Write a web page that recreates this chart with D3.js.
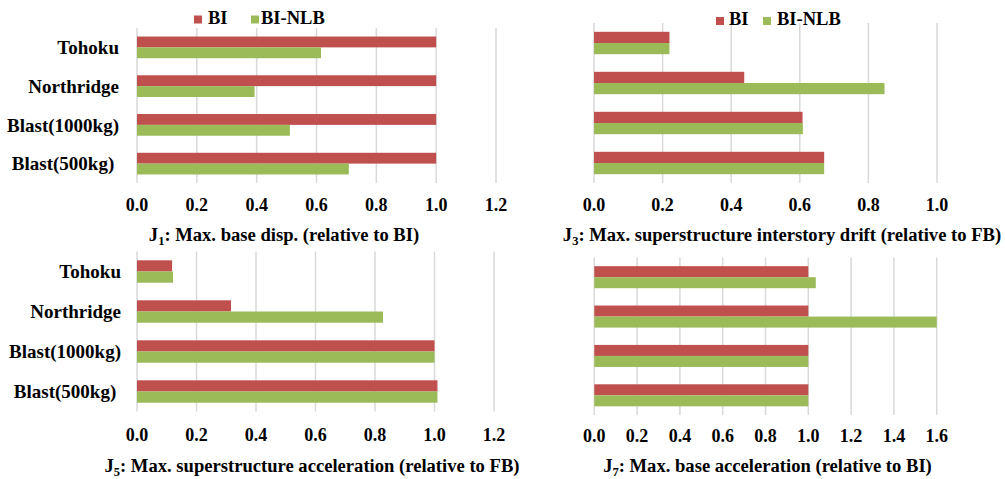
<!DOCTYPE html>
<html>
<head>
<meta charset="utf-8">
<script src="https://cdn.jsdelivr.net/npm/d3@7"></script>
<style>
  html, body { margin: 0; padding: 0; background: #fff; }
  svg { display: block; }
</style>
</head>
<body>
<svg id="chart" width="1005" height="479" font-family="Liberation Serif" font-weight="bold"></svg>
<script>
// Load cases (top to bottom)
const categories = ["Tohoku", "Northridge", "Blast(1000kg)", "Blast(500kg) "];
const seriesNames = ["BI", "BI-NLB"];
const seriesColors = ["#C0504D", "#9BBB59"];

// J1: max. base displacement (relative to BI)
const j1BI  = [1.0, 1.0, 1.0, 1.0];
const j1NLB = [0.615, 0.393, 0.511, 0.708];
// J3: max. superstructure interstory drift (relative to FB)
const j3BI  = [0.22, 0.438, 0.608, 0.671];
const j3NLB = [0.22, 0.847, 0.609, 0.671];
// J5: max. superstructure acceleration (relative to FB)
const j5BI  = [0.118, 0.316, 1.0, 1.01];
const j5NLB = [0.121, 0.827, 1.0, 1.01];
// J7: max. base acceleration (relative to BI)
const j7BI  = [1.0, 1.0, 1.0, 1.0];
const j7NLB = [1.035, 1.6, 1.0, 1.0];

// Axis tick values
const ticks12 = [0, 0.2, 0.4, 0.6, 0.8, 1.0, 1.2];
const ticks10 = [0, 0.2, 0.4, 0.6, 0.8, 1.0];
const ticks16 = [0, 0.2, 0.4, 0.6, 0.8, 1.0, 1.2, 1.4, 1.6];

// Titles: [main letter, subscript, rest]
const titles = [
  ["J", "1", ": Max. base disp. (relative to BI)"],
  ["J", "3", ": Max. superstructure interstory drift (relative to FB)"],
  ["J", "5", ": Max. superstructure acceleration (relative to FB)"],
  ["J", "7", ": Max. base acceleration (relative to BI)"]
];

const svg = d3.select("#chart");

const panels = [
  { bi: j1BI, nlb: j1NLB, ticks: ticks12, title: titles[0],
    x0: 137, x1: 496, y0: 28, y1: 183, tickY: 211, titleX: 284, titleY: 241,
    labelX: 119, legend: { y: 15.5, items: [194, 251], textX: [208, 261] } },
  { bi: j3BI, nlb: j3NLB, ticks: ticks10, title: titles[1],
    x0: 594, x1: 937, y0: 23, y1: 183, tickY: 211, titleX: 782, titleY: 241,
    labelX: null, legend: { y: 17, items: [716, 763], textX: [729, 777] } },
  { bi: j5BI, nlb: j5NLB, ticks: ticks12, title: titles[2],
    x0: 137, x1: 494, y0: 251.5, y1: 411.5, tickY: 441, titleX: 312, titleY: 472,
    labelX: 121, legend: null },
  { bi: j7BI, nlb: j7NLB, ticks: ticks16, title: titles[3],
    x0: 594.3, x1: 936.7, y0: 257.5, y1: 415, tickY: 442, titleX: 767.5, titleY: 472,
    labelX: null, legend: null }
];

panels.forEach(p => {
  const maxTick = p.ticks[p.ticks.length - 1];
  const x = d3.scaleLinear().domain([0, maxTick]).range([p.x0, p.x1]);
  const y = d3.scaleBand().domain(categories).range([p.y0, p.y1])
    .paddingInner(0.44).paddingOuter(0.22);
  const sub = d3.scaleBand().domain(seriesNames).range([0, y.bandwidth()]);

  const g = svg.append("g");

  // vertical gridlines
  g.append("g").selectAll("line").data(p.ticks).join("line")
    .attr("x1", d => x(d)).attr("x2", d => x(d))
    .attr("y1", p.y0).attr("y2", p.y1)
    .attr("stroke", "#d9d9d9").attr("stroke-width", 1.5);

  // bars
  const rows = categories.map((c, i) => ({ c, vals: [p.bi[i], p.nlb[i]] }));
  const rowG = g.append("g").selectAll("g").data(rows).join("g")
    .attr("transform", d => `translate(0,${y(d.c)})`);
  rowG.selectAll("rect")
    .data(d => d.vals.map((v, k) => ({ name: seriesNames[k], v, k })))
    .join("rect")
    .attr("x", x(0))
    .attr("y", d => sub(d.name))
    .attr("width", d => x(d.v) - x(0))
    .attr("height", sub.bandwidth())
    .attr("fill", d => seriesColors[d.k]);

  // x tick labels
  g.append("g").selectAll("text").data(p.ticks).join("text")
    .attr("x", d => x(d)).attr("y", p.tickY)
    .attr("text-anchor", "middle").attr("font-size", 18)
    .text(d3.format(".1f"));

  // category labels
  if (p.labelX !== null) {
    g.append("g").selectAll("text").data(categories).join("text")
      .attr("x", p.labelX).attr("y", d => y(d) + y.bandwidth() / 2)
      .attr("dy", "0.35em").attr("text-anchor", "end").attr("font-size", 19)
      .style("white-space", "pre")
      .text(d => d);
  }

  // title with subscript
  const t = g.append("text").attr("x", p.titleX).attr("y", p.titleY)
    .attr("text-anchor", "middle").attr("font-size", 18.6);
  t.append("tspan").text(p.title[0]);
  t.append("tspan").attr("font-size", 12.5).attr("dy", 4).text(p.title[1]);
  t.append("tspan").attr("dy", -4).text(p.title[2]);

  // legend
  if (p.legend) {
    const lg = g.append("g");
    seriesNames.forEach((name, k) => {
      lg.append("rect").attr("x", p.legend.items[k]).attr("y", p.legend.y)
        .attr("width", 8).attr("height", 8).attr("fill", seriesColors[k]);
      lg.append("text").attr("x", p.legend.textX[k]).attr("y", p.legend.y + 8)
        .attr("font-size", 18.5).text(name);
    });
  }
});
</script>
</body>
</html>
